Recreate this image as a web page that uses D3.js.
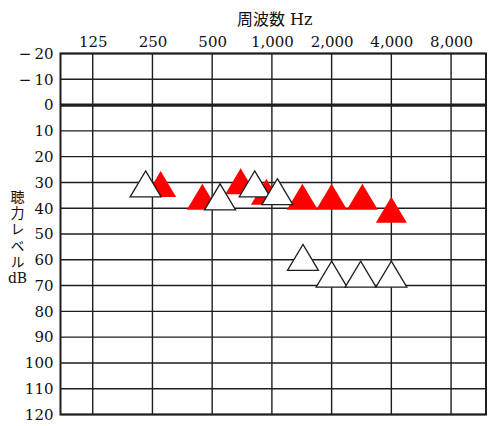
<!DOCTYPE html>
<html>
<head>
<meta charset="utf-8">
<script src="https://cdn.jsdelivr.net/npm/d3@7"></script>
<style>
  body { margin: 0; background: #fff; }
</style>
</head>
<body>
<div id="chart-area"></div>
<script>
var width = 500;
var height = 426;

// frequency axis (Hz) and hearing level axis (dB)
var freqTicks = [125, 250, 500, 1000, 2000, 4000, 8000];
var freqLabels = ["125", "250", "500", "1,000", "2,000", "4,000", "8,000"];
var dbTicks = [-20, -10, 0, 10, 20, 30, 40, 50, 60, 70, 80, 90, 100, 110, 120];

// red filled triangles
var redFreq = [275, 446, 696, 938, 1424, 2000, 2857, 4000];
var redDb = [30, 35, 29, 33, 35, 35, 35, 40];

// white (outlined) triangles
var whiteFreq = [231, 548, 819, 1066, 1434, 2000, 2801, 4000];
var whiteDb = [30, 35, 30, 33, 58.5, 65, 65, 65];

var svg = d3.select("#chart-area").append("svg")
    .attr("width", width)
    .attr("height", height)
    .style("background", "#fff");

var x = d3.scaleLog()
    .base(2)
    .domain([86, 12000])
    .range([60.5, 486]);

var y = d3.scaleLinear()
    .domain([-20, 120])
    .range([53.5, 414.5]);

var ink = "#1e1e1e";

// grid
svg.append("g").selectAll("line")
    .data(freqTicks)
    .enter()
    .append("line")
        .attr("x1", (d) => { return x(d); })
        .attr("x2", (d) => { return x(d); })
        .attr("y1", y(-20))
        .attr("y2", y(120))
        .attr("stroke", ink)
        .attr("stroke-width", 1.4);

svg.append("g").selectAll("line")
    .data(dbTicks)
    .enter()
    .append("line")
        .attr("x1", x.range()[0])
        .attr("x2", x.range()[1])
        .attr("y1", (d) => { return y(d); })
        .attr("y2", (d) => { return y(d); })
        .attr("stroke", ink)
        .attr("stroke-width", (d) => { return d === 0 ? 3.2 : 1.4; });

svg.append("rect")
    .attr("x", x.range()[0])
    .attr("y", y(-20))
    .attr("width", x.range()[1] - x.range()[0])
    .attr("height", y(120) - y(-20))
    .attr("fill", "none")
    .attr("stroke", ink)
    .attr("stroke-width", 2);

// axes (labels only)
var xAxisGroup = svg.append("g")
    .attr("transform", "translate(0, " + y(-20) + ")")
    .call(d3.axisTop(x)
        .tickValues(freqTicks)
        .tickSize(0)
        .tickPadding(7)
        .tickFormat((d, i) => { return freqLabels[i]; }));

var yAxisGroup = svg.append("g")
    .attr("transform", "translate(" + x.range()[0] + ", 0)")
    .call(d3.axisLeft(y)
        .tickValues(dbTicks)
        .tickSize(0)
        .tickPadding(7)
        .tickFormat((d) => { return d < 0 ? "\u2212\u2009" + (-d) : String(d); }));

[xAxisGroup, yAxisGroup].forEach((g) => {
    g.select(".domain").remove();
    g.selectAll("text")
        .attr("font-family", "'DejaVu Serif', serif")
        .attr("font-size", "15px")
        .attr("fill", "#111");
});

// titles
var title = svg.append("text")
    .attr("x", 237)
    .attr("y", 25)
    .attr("fill", "#111");
title.append("tspan")
    .attr("font-family", "'Noto Sans CJK JP', sans-serif")
    .attr("font-size", "16px")
    .text("周波数");
title.append("tspan")
    .attr("font-family", "'DejaVu Serif', serif")
    .attr("font-size", "16px")
    .attr("dx", 5)
    .text("Hz");

// vertical y label
svg.append("text")
    .attr("x", 17.5)
    .attr("y", 189.5)
    .style("writing-mode", "vertical-rl")
    .attr("font-family", "'Noto Sans CJK JP', sans-serif")
    .attr("font-size", "14px")
    .attr("letter-spacing", "2.3px")
    .attr("fill", "#111")
    .text("聴力レベル");

svg.append("text")
    .attr("x", 17.5)
    .attr("y", 278)
    .attr("dy", "0.36em")
    .attr("text-anchor", "middle")
    .attr("font-family", "'DejaVu Serif', serif")
    .attr("font-size", "14px")
    .attr("fill", "#111")
    .text("dB");

// triangle marks
var tri = (cx, cy) => {
    return "M" + cx + "," + (cy - 11.5) +
        "L" + (cx + 15.5) + "," + (cy + 14.5) +
        "L" + (cx - 15.5) + "," + (cy + 14.5) + "Z";
};

svg.append("g").selectAll("path")
    .data(redFreq)
    .enter()
    .append("path")
        .attr("d", (d, i) => { return tri(x(d), y(redDb[i])); })
        .attr("fill", "#ff0000");

svg.append("g").selectAll("path")
    .data(whiteFreq)
    .enter()
    .append("path")
        .attr("d", (d, i) => { return tri(x(d), y(whiteDb[i])); })
        .attr("fill", "#fff")
        .attr("stroke", ink)
        .attr("stroke-width", 1.3)
        .attr("stroke-linejoin", "miter");
</script>
</body>
</html>
